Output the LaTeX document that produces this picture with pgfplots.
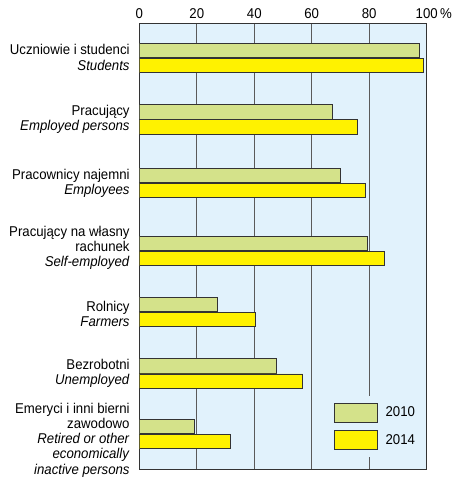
\documentclass[border=0pt]{standalone}
\usepackage{pgfplots}
\pgfplotsset{compat=1.18}
\usepackage{fontspec}
\setmainfont{Liberation Sans}[FakeStretch=0.93]
\definecolor{bgblue}{HTML}{E1F2FC}
\definecolor{barg}{HTML}{D4E28A}
\definecolor{bary}{HTML}{FFF200}
\definecolor{edge}{HTML}{333333}
\definecolor{gridc}{HTML}{5A5A5A}
\begin{document}
\fontsize{14.2}{15.3}\selectfont
\begin{tikzpicture}
\path[use as bounding box] (0,0) rectangle (453pt,480pt);
\begin{axis}[
  at={(139.3pt,11pt)}, anchor=south west,
  scale only axis, width=287.4pt, height=446pt,
  xmin=0, xmax=100, ymin=11, ymax=457,
  xtick={0,20,40,60,80,100},
  xticklabels={0,20,40,60,80,{100\rlap{\,\%}}},
  xticklabel pos=upper,
  xticklabel style={inner sep=0pt, yshift=4.5pt},
  major tick length=0pt,
  xmajorgrids, grid style={gridc, line width=0.9pt},
  axis line style={edge, line width=0.9pt},
  axis background/.style={fill=bgblue},
  ytick={422.5,360.5,297,232,166,107,40},
  yticklabels={
    {Uczniowie i studenci\\\textit{Students}},
    {Pracujący\\\textit{Employed persons}},
    {Pracownicy najemni\\\textit{Employees}},
    {Pracujący na własny\\rachunek\\\textit{Self-employed}},
    {Rolnicy\\\textit{Farmers}},
    {Bezrobotni\\\textit{Unemployed}},
    {Emeryci i inni bierni\\zawodowo\\\textit{Retired or other}\\\textit{economically}\\\textit{inactive persons}}
  },
  yticklabel style={align=right, inner sep=0pt, xshift=-9.5pt},
  /pgf/number format/assume math mode=true,
  legend style={at={(axis cs:65.7,84)}, anchor=north west, fill=bgblue, draw=none,
    inner xsep=6pt, inner ysep=6.5pt, row sep=8pt,
    nodes={inner sep=0pt, anchor=west},
    /tikz/every odd column/.append style={column sep=8pt}},
  legend cell align=left,
]
\addplot[xbar, bar width=14.2, bar shift=0pt, fill=barg, draw=edge, line width=0.8pt,
  legend image code/.code={\draw[fill=barg,draw=edge,line width=0.8pt] (0pt,-9.5pt) rectangle (42.5pt,9.5pt);}]
  coordinates {(97.4,429.5) (67.1,368) (70.1,304.7) (79.5,236.5) (27.2,175.7) (47.7,114.1) (19.2,53.2)};
\addlegendentry{2010}
\addplot[xbar, bar width=14.2, bar shift=0pt, fill=bary, draw=edge, line width=0.8pt,
  legend image code/.code={\draw[fill=bary,draw=edge,line width=0.8pt] (0pt,-9.5pt) rectangle (42.5pt,9.5pt);}]
  coordinates {(98.9,414.5) (76.0,353) (78.8,289.4) (85.3,221.5) (40.4,160.5) (56.9,98.9) (31.6,38.2)};
\addlegendentry{2014}
\end{axis}
\end{tikzpicture}
\end{document}
